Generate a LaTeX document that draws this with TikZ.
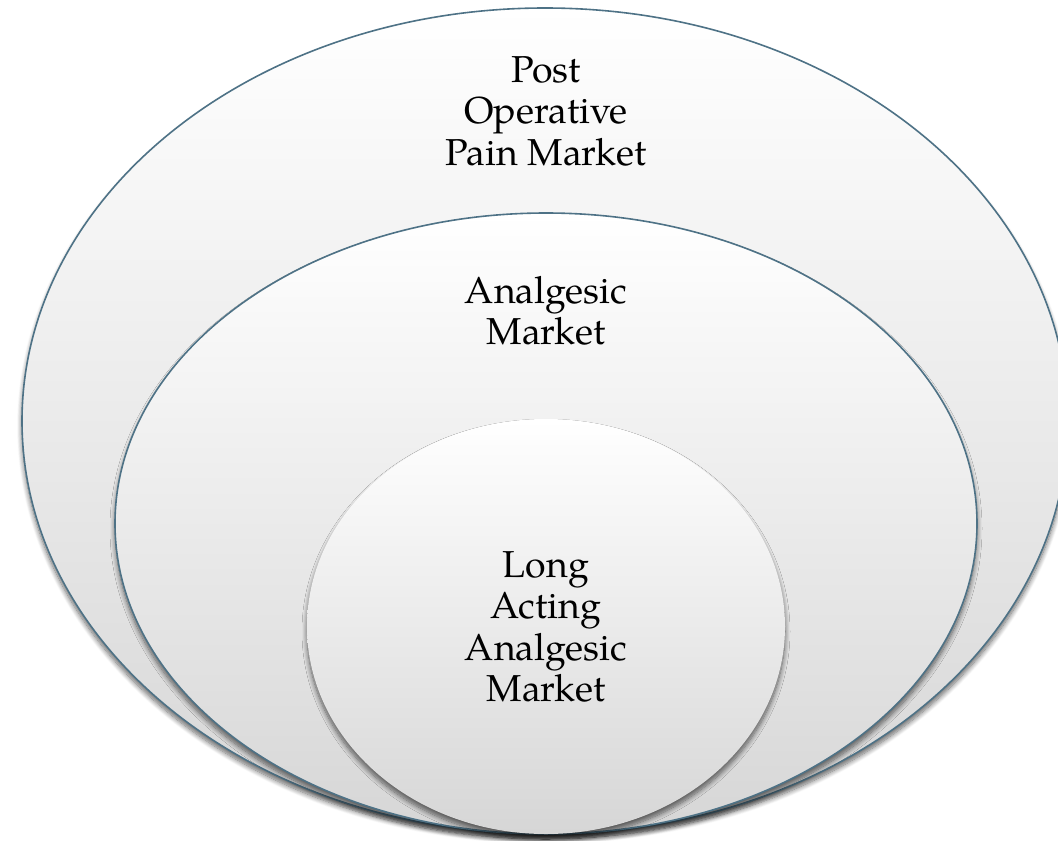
\documentclass[tikz,border=0pt]{standalone}
\usepackage{fontspec}
\setmainfont{TeX Gyre Pagella}
\usetikzlibrary{shapes.geometric,shadows.blur}
\definecolor{rimblue}{HTML}{4E7286}
\definecolor{shadebot}{HTML}{D6D6D6}
\tikzset{
  softshadow/.style={blur shadow={shadow xshift=0pt, shadow yshift=-5pt, shadow blur steps=10, shadow blur radius=5pt, shadow opacity=60}},
  market/.style={ellipse, inner sep=0pt, draw=rimblue, line width=1.6pt,
    top color=white, bottom color=shadebot, softshadow},
  innermarket/.style={ellipse, inner sep=0pt, draw=none,
    top color=white, bottom color=shadebot, softshadow},
  lbl/.style={align=center, font=\fontsize{37.5}{41.5}\selectfont, text=black, inner sep=0pt}
}
\begin{document}
\begin{tikzpicture}[x=1pt,y=-1pt]
\useasboundingbox (0,0) rectangle (1058,841);
\node[market, minimum width=1046pt, minimum height=826pt] (outer) at (545,421) {};
\node[market, minimum width=862pt, minimum height=621pt] (middle) at (546,523.5) {};
\node[innermarket, minimum width=478pt, minimum height=415pt] (inner) at (546,626.5) {};
\node[lbl] (toptext) at (546,111) {Post\\Operative\\Pain Market};
\node[lbl] (midtext) at (546,311) {Analgesic\\Market};
\node[lbl] (innertext) at (546,627) {Long\\Acting\\Analgesic\\Market};
\end{tikzpicture}
\end{document}
